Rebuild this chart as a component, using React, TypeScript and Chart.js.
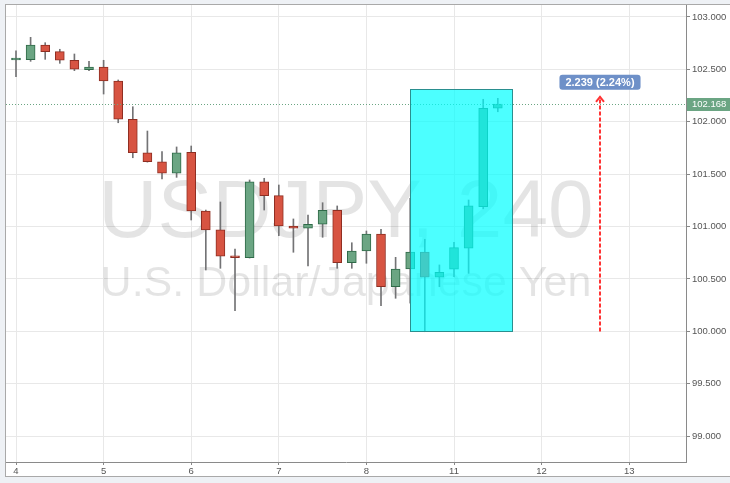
import React, { useEffect, useRef } from "react";
import { Chart, registerables } from "chart.js";

Chart.register(...registerables);

// ---- data ----
const dayLabels = ["4", "5", "6", "7", "8", "11", "12", "13"];
const dayTickIdx = [0, 6, 12, 18, 24, 30, 36, 42];
const priceTicks = [99.0, 99.5, 100.0, 100.5, 101.0, 101.5, 102.0, 102.5, 103.0];

const opens = [
  102.590, 102.593, 102.733, 102.669, 102.587, 102.497, 102.523, 102.389, 102.024, 101.705,
  101.619, 101.509, 101.709, 101.149, 100.968, 100.722, 100.703, 101.426, 101.295, 101.006,
  100.984, 101.022, 101.156, 100.656, 100.767, 100.929, 100.427, 100.595, 100.758, 100.517,
  100.594, 100.793, 101.190, 102.129,
];
const highs = [
  102.676, 102.806, 102.755, 102.692, 102.647, 102.577, 102.587, 102.399, 102.144, 101.912,
  101.717, 101.760, 101.769, 101.158, 101.235, 100.786, 101.445, 101.461, 101.397, 101.073,
  101.111, 101.228, 101.197, 100.846, 100.958, 100.974, 100.707, 101.270, 100.879, 100.634,
  100.850, 101.254, 102.215, 102.224,
];
const lows = [
  102.430, 102.577, 102.596, 102.558, 102.488, 102.488, 102.265, 101.991, 101.657, 101.615,
  101.454, 101.470, 101.063, 100.586, 100.602, 100.198, 100.700, 101.158, 100.913, 100.755,
  100.624, 100.898, 100.602, 100.602, 100.650, 100.245, 100.316, 100.270, 99.997, 100.427,
  100.522, 100.554, 101.170, 102.096,
];
const closes = [
  102.596, 102.733, 102.669, 102.587, 102.501, 102.523, 102.389, 102.024, 101.705, 101.619,
  101.509, 101.705, 101.149, 100.968, 100.719, 100.703, 101.428, 101.295, 101.006, 100.984,
  101.022, 101.156, 100.656, 100.767, 100.929, 100.427, 100.595, 100.758, 100.517, 100.564,
  100.799, 101.197, 102.129, 102.168,
];

const lastPrice = 102.168;
const boxIdxRange = [27, 34];
const boxPriceRange = [100.0, 102.31];
const measureIdx = 40;
const measurePrices = [100.0, 102.239];
const measureLabel = "2.239 (2.24%)";
const watermarkTitle = "USDJPY, 240";
const watermarkSubtitle = "U.S. Dollar/Japanese Yen";

// ---- styles ----
const UP = "#6ba583";
const DOWN = "#d75442";
const UP_BORDER = "#2f6a48";
const DOWN_BORDER = "#8e2e22";
const WICK = "#737375";
const FONT = "Arial, 'Liberation Sans', sans-serif";

const overlayPlugin = {
  id: "overlay",
  beforeDatasetsDraw(chart: any) {
    const { ctx, chartArea } = chart;
    const cx = (chartArea.left + chartArea.right) / 2;
    ctx.save();
    ctx.fillStyle = "rgba(0,0,0,0.105)";
    ctx.textAlign = "center";
    ctx.textBaseline = "alphabetic";
    ctx.font = `82px ${FONT}`;
    ctx.fillText(watermarkTitle, cx, chartArea.top + 232);
    ctx.font = `43px ${FONT}`;
    ctx.fillText(watermarkSubtitle, cx, chartArea.top + 291);
    ctx.restore();
  },
  afterDatasetsDraw(chart: any) {
    const { ctx, chartArea } = chart;
    const xs = chart.scales.x;
    const ys = chart.scales.y;
    ctx.save();
    // last price dotted line
    const yl = Math.round(ys.getPixelForValue(lastPrice)) + 0.5;
    ctx.strokeStyle = UP;
    ctx.lineWidth = 1;
    ctx.setLineDash([1, 2]);
    ctx.beginPath();
    ctx.moveTo(chartArea.left, yl);
    ctx.lineTo(chartArea.right, yl);
    ctx.stroke();
    ctx.setLineDash([]);

    // cyan rectangle
    const bx1 = Math.round(xs.getPixelForValue(boxIdxRange[0])) + 0.5;
    const bx2 = Math.round(xs.getPixelForValue(boxIdxRange[1])) + 0.5;
    const by1 = Math.round(ys.getPixelForValue(boxPriceRange[1])) + 0.5;
    const by2 = Math.round(ys.getPixelForValue(boxPriceRange[0])) + 0.5;
    ctx.fillStyle = "rgba(0,255,255,0.7)";
    ctx.fillRect(bx1, by1, bx2 - bx1, by2 - by1);
    ctx.strokeStyle = "#2a8f8f";
    ctx.lineWidth = 1;
    ctx.strokeRect(bx1, by1, bx2 - bx1, by2 - by1);

    // measure arrow
    const ax = Math.round(xs.getPixelForValue(measureIdx));
    const ay1 = ys.getPixelForValue(measurePrices[0]);
    const ay2 = ys.getPixelForValue(measurePrices[1]);
    ctx.strokeStyle = "#ff3333";
    ctx.lineWidth = 2;
    ctx.setLineDash([4, 2]);
    ctx.beginPath();
    ctx.moveTo(ax, ay1);
    ctx.lineTo(ax, ay2);
    ctx.stroke();
    ctx.setLineDash([]);
    ctx.beginPath();
    ctx.moveTo(ax - 4, ay2 + 5);
    ctx.lineTo(ax, ay2);
    ctx.lineTo(ax + 4, ay2 + 5);
    ctx.stroke();

    // label
    ctx.font = `bold 11px ${FONT}`;
    const tw = ctx.measureText(measureLabel).width;
    const w = tw + 12;
    const h = 15;
    const lx = ax - w / 2;
    const ly = ay2 - 7 - h;
    ctx.fillStyle = "#6e90c8";
    ctx.beginPath();
    (ctx as any).roundRect(lx, ly, w, h, 3);
    ctx.fill();
    ctx.fillStyle = "#ffffff";
    ctx.textAlign = "center";
    ctx.textBaseline = "middle";
    ctx.fillText(measureLabel, ax, ly + h / 2 + 0.5);
    ctx.restore();
  },
  afterDraw(chart: any) {
    const { ctx, chartArea, width } = chart;
    const ys = chart.scales.y;
    const y = Math.round(ys.getPixelForValue(lastPrice));
    ctx.save();
    ctx.fillStyle = UP;
    ctx.fillRect(chartArea.right + 1, y - 6, width - chartArea.right - 1, 13);
    ctx.fillStyle = "#ffffff";
    ctx.font = `9.5px ${FONT}`;
    ctx.textAlign = "left";
    ctx.textBaseline = "middle";
    ctx.fillText(lastPrice.toFixed(3), chartArea.right + 6, y + 0.5);
    ctx.restore();
  },
};

export default function App() {
  const ref = useRef<HTMLCanvasElement | null>(null);

  useEffect(() => {
    if (!ref.current) return;
    const idx = opens.map((_, i) => i);
    const isUp = idx.map((i) => closes[i] >= opens[i]);
    const chart = new Chart(ref.current, {
      type: "bar",
      data: {
        datasets: [
          {
            label: "body",
            data: idx.map((i) => ({ x: i, y: [Math.min(opens[i], closes[i]), Math.max(opens[i], closes[i])] })) as any,
            backgroundColor: isUp.map((u) => (u ? UP : DOWN)),
            borderColor: isUp.map((u) => (u ? UP_BORDER : DOWN_BORDER)),
            borderWidth: 1,
            borderSkipped: false,
            barThickness: 9,
            minBarLength: 2,
            grouped: false,
            order: 0,
          } as any,
          {
            label: "wick",
            data: idx.map((i) => ({ x: i, y: [lows[i], highs[i]] })) as any,
            backgroundColor: WICK,
            borderWidth: 0,
            barThickness: 1,
            grouped: false,
            order: 1,
          } as any,
        ],
      },
      options: {
        animation: false,
        responsive: false,
        devicePixelRatio: 1,
        layout: { padding: 0 },
        plugins: { legend: { display: false }, tooltip: { enabled: false } },
        scales: {
          x: {
            type: "linear",
            min: -0.685,
            max: 45.89,
            offset: false,
            afterBuildTicks: (s: any) => {
              s.ticks = dayTickIdx.map((v) => ({ value: v }));
            },
            afterFit: (s: any) => {
              s.height = 14;
              s.paddingLeft = 0;
              s.paddingRight = 0;
            },
            ticks: {
              autoSkip: false,
              maxRotation: 0,
              padding: 1,
              color: "#555",
              font: { size: 9.5, family: FONT },
              callback: (v: any) => dayLabels[dayTickIdx.indexOf(Number(v))] ?? "",
            },
            grid: { color: "#e8e8e8", tickColor: "#888", tickLength: 3, offset: false },
            border: { color: "#8a8a8a" },
          },
          y: {
            type: "linear",
            position: "right",
            min: 98.7538,
            max: 103.1145,
            afterBuildTicks: (s: any) => {
              s.ticks = priceTicks.map((v) => ({ value: v }));
            },
            afterFit: (s: any) => {
              s.width = 44;
              s.paddingTop = 0;
              s.paddingBottom = 0;
            },
            ticks: {
              padding: 2,
              color: "#555",
              font: { size: 9.5, family: FONT },
              callback: (v: any) => Number(v).toFixed(3),
            },
            grid: { color: "#e8e8e8", tickColor: "#888", tickLength: 4 },
            border: { color: "#8a8a8a" },
          },
        },
      } as any,
      plugins: [overlayPlugin],
    });
    return () => chart.destroy();
  }, []);

  return (
    <div style={{ position: "fixed", left: 0, top: 0, width: 730, height: 483, background: "#eef1f5", overflow: "hidden" }}>
      <div
        style={{
          position: "absolute",
          left: 5,
          top: 4,
          width: 800,
          height: 473,
          boxSizing: "border-box",
          border: "1px solid #a9a9a9",
          background: "#ffffff",
        }}
      >
        <canvas ref={ref} width={724} height={471} style={{ position: "absolute", left: 0, top: 0, width: 724, height: 471 }} />
      </div>
    </div>
  );
}
